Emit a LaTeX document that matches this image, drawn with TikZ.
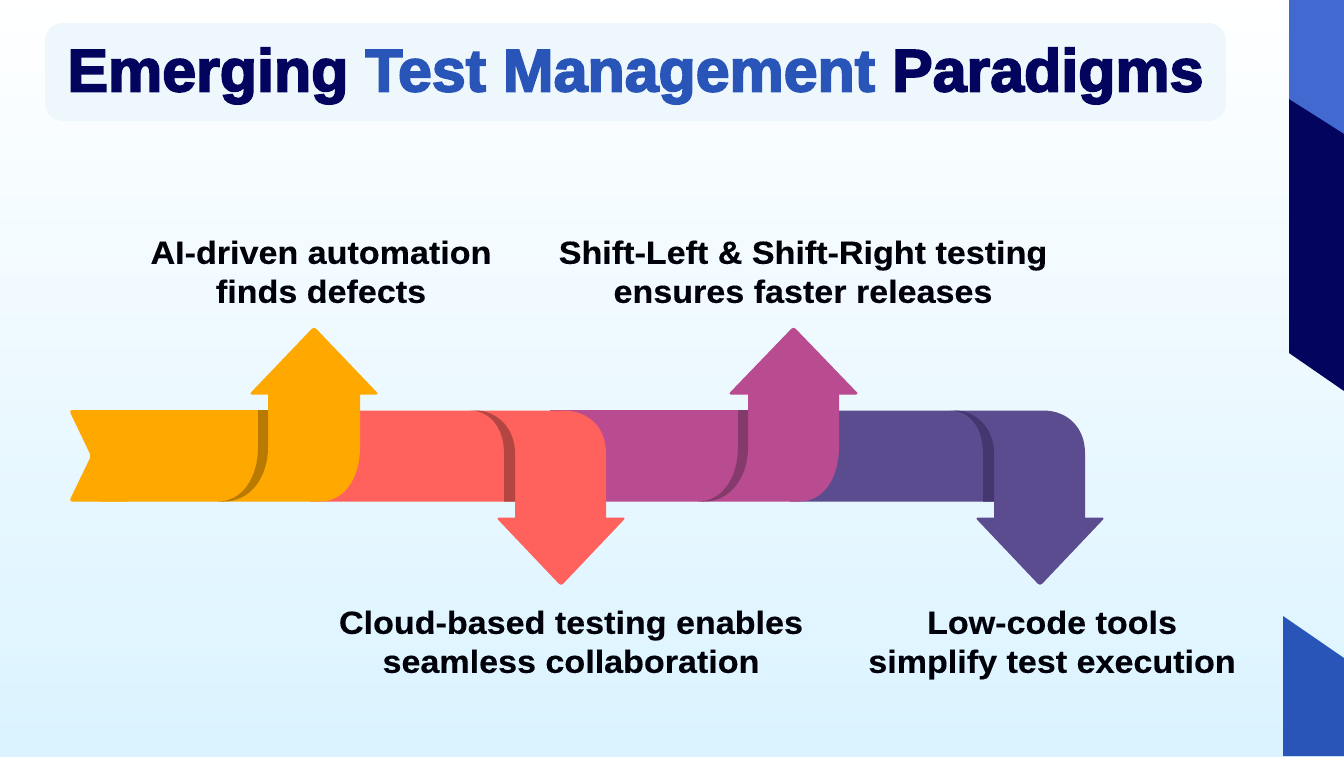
\documentclass[tikz,border=0pt]{standalone}
\usepackage{fontspec}
\setmainfont{Liberation Sans}
\newfontfamily\titlefont{Liberation Sans Bold}[FakeBold=3,FakeStretch=1.015]
\newfontfamily\labelfont{Liberation Sans Bold}[FakeBold=0.3,FakeStretch=1.065]
\definecolor{navyc}{HTML}{03045E}
\definecolor{bluec}{HTML}{2A55B8}
\definecolor{topblue}{HTML}{4169D0}
\definecolor{amberc}{HTML}{FFA800}
\definecolor{amberd}{HTML}{B87A00}
\definecolor{redc}{HTML}{FF625C}
\definecolor{redd}{HTML}{B34642}
\definecolor{magc}{HTML}{B94B90}
\definecolor{magd}{HTML}{843A6B}
\definecolor{vioc}{HTML}{5A4C8F}
\definecolor{viod}{HTML}{45366F}
\definecolor{panelc}{HTML}{EEF7FC}
\definecolor{bgbottom}{HTML}{DAF3FF}
\definecolor{bgmid}{HTML}{EAF8FE}
\tikzset{
  arrowhead/.style={rounded corners=3pt},
  lbl/.style={font=\labelfont\fontsize{32}{39}\selectfont, align=center, text=black!90!navyc, inner sep=0pt},
}
\begin{document}
\begin{tikzpicture}[x=1pt,y=-1pt]
\useasboundingbox (0,0) rectangle (1344,756);
\shade[top color=white, middle color=bgmid, bottom color=bgbottom] (0,0) rectangle (1344,756);
% side decoration
\fill[topblue] (1289,0) -- (1344,0) -- (1344,135) -- (1289,99) -- cycle;
\fill[navyc] (1289,99) -- (1344,134) -- (1344,391) -- (1289,353) -- cycle;
\fill[bluec] (1283,616) -- (1344,658) -- (1344,756) -- (1283,756) -- cycle;
% title panel
\fill[panelc, rounded corners=18pt] (45,23) rectangle (1226,121);
\node[font=\titlefont\fontsize{60}{60}\selectfont, inner sep=0pt, anchor=center] (title) at (635.5,76)
  {\textcolor{navyc}{Emerging} \textcolor{bluec}{Test Management} \textcolor{navyc}{Paradigms}};
% violet
\fill[vioc] (790,410.5) -- (1043,410.5) .. controls (1068,410.5) and (1085,428) .. (1085,453)
  -- (1085,530) -- (994,530) -- (994,501.5) -- (790,501.5) -- cycle;
\fill[vioc, arrowhead] (1105,517.5) -- (1040,586) -- (975,517.5) -- cycle;
\fill[viod] (950,410.5) .. controls (970,410.5) and (983,428) .. (983,453) -- (983,501.5) -- (994,501.5) -- (994,453)
  .. controls (994,430) and (978,410.5) .. (954,410.5) -- cycle;
% magenta
\fill[magc] (550,410) -- (748,410) -- (748,385) -- (839,385) -- (839,447)
  .. controls (839,480) and (822,501.5) .. (800,501.5) -- (550,501.5) -- cycle;
\fill[magc, arrowhead] (728,394.5) -- (793.5,326.5) -- (859,394.5) -- cycle;
\fill[magd] (738,410) -- (748,410) -- (748,447) .. controls (748,478) and (730,501.5) .. (704,501.5) -- (698,501.5)
  .. controls (722,501.5) and (738,478) .. (738,447) -- cycle;
% red
\fill[redc] (310,410.5) -- (563,410.5) .. controls (589,410.5) and (606,428) .. (606,453)
  -- (606,530) -- (515,530) -- (515,501.5) -- (310,501.5) -- cycle;
\fill[redc, arrowhead] (626,517.5) -- (561,586) -- (496,517.5) -- cycle;
\fill[redd] (470,410.5) .. controls (490,410.5) and (504,428) .. (504,453) -- (504,501.5) -- (515,501.5) -- (515,453)
  .. controls (515,430) and (499,410.5) .. (475,410.5) -- cycle;
% amber
\fill[amberc, arrowhead] (130,410) -- (69,410) -- (91,456) -- (69,501.5) -- (130,501.5) -- cycle;
\fill[amberc] (100,410) -- (268,410) -- (268,385) -- (360,385) -- (360,447)
  .. controls (360,480) and (343,501.5) .. (320,501.5) -- (100,501.5) -- cycle;
\fill[amberc, arrowhead] (249,394.5) -- (314,326.5) -- (379,394.5) -- cycle;
\fill[amberd] (258,410) -- (268,410) -- (268,447) .. controls (268,478) and (250,501.5) .. (224,501.5) -- (218,501.5)
  .. controls (242,501.5) and (258,478) .. (258,447) -- cycle;
% labels
\node[lbl] (l1) at (321,275.5) {\strut AI-driven automation\\finds defects\strut};
\node[lbl] (l2) at (803,275.5) {\strut Shift-Left \& Shift-Right testing\\ensures faster releases\strut};
\node[lbl] (l3) at (571,645.5) {\strut Cloud-based testing enables\\seamless collaboration\strut};
\node[lbl] (l4) at (1052,645.5) {\strut Low-code tools\\simplify test execution\strut};
\end{tikzpicture}
\end{document}
